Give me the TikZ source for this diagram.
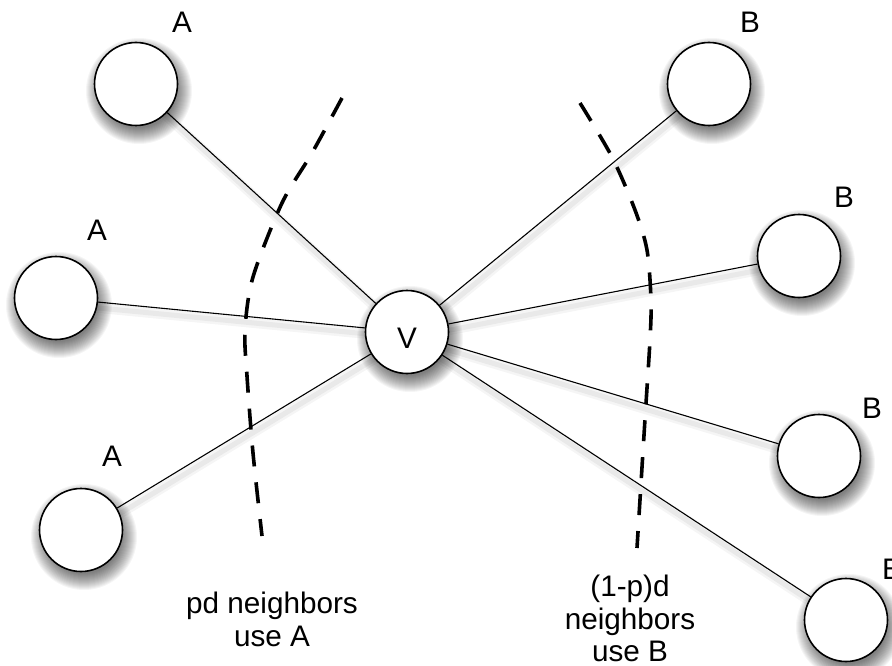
\documentclass[tikz,border=0pt]{standalone}
\usepackage{fontspec}
\setmainfont{Liberation Sans}
\usetikzlibrary{backgrounds}
\begin{document}
\begin{tikzpicture}[x=1pt,y=-1pt,
  vertex/.style={circle,draw=black,line width=1.6pt,fill=white,minimum size=83pt,inner sep=0pt},
  edge/.style={draw=black,line width=1.1pt},
  edgeshadow/.style={draw=black,line cap=round},
  divider/.style={draw=black,line width=3.6pt,dash pattern=on 21pt off 16pt},
  lbl/.style={font=\fontsize{29.7}{32.5}\selectfont,inner sep=0pt},
  caption/.style={lbl,align=center,anchor=north}]
\useasboundingbox (0,0) rectangle (892,666);

% vertices
\node[vertex,text height=33pt,font=\fontsize{29.7}{32.5}\selectfont] (v) at (407,332) {V};
\node[vertex] (a1) at (136,84) {};
\node[vertex] (a2) at (56,298) {};
\node[vertex] (a3) at (81,530) {};
\node[vertex] (b1) at (709,84) {};
\node[vertex] (b2) at (799,256) {};
\node[vertex] (b3) at (819,456) {};
\node[vertex] (b4) at (846,620) {};

% soft drop shadows under edges and vertices
\begin{scope}[on background layer]
  \foreach \n in {a1,a2,a3,b1,b2,b3,b4} {
    \draw[edgeshadow,line width=10pt,opacity=0.04] ([shift={(2,6)}]v.center) -- ([shift={(2,6)}]\n.center);
    \draw[edgeshadow,line width=5pt,opacity=0.05] ([shift={(2,6)}]v.center) -- ([shift={(2,6)}]\n.center);
  }
  \foreach \n in {v,a1,a2,a3,b1,b2,b3,b4} {
    \foreach \k in {37,...,53} {
      \fill[black,opacity=0.04] ([shift={(3,7)}]\n.center) circle (\k);
    }
  }
\end{scope}

% edges from the centre vertex
\foreach \n in {a1,a2,a3,b1,b2,b3,b4} {
  \draw[edge] (v) -- (\n);
}

% dashed dividers
\draw[divider] plot[smooth] coordinates {(342,98) (312,153) (282,203) (253,277) (245,330) (247,376) (253,453) (262,536)};
\draw[divider] plot[smooth] coordinates {(580,103) (612,157) (635,210) (647,250) (651,300) (650,340) (645,419) (637,548)};

% vertex labels
\node[lbl] (la1) at (182,22) {A};
\node[lbl] (la2) at (97,230) {A};
\node[lbl] (la3) at (112,456) {A};
\node[lbl] (lb1) at (750,22) {B};
\node[lbl] (lb2) at (844,197) {B};
\node[lbl] (lb3) at (872,408) {B};
\node[lbl] (lb4) at (892,569) {B};

% captions
\node[caption] (capa) at (272,592) {pd neighbors\\use A};
\node[caption] (capb) at (630,575) {(1-p)d\\neighbors\\use B};
\end{tikzpicture}
\end{document}
